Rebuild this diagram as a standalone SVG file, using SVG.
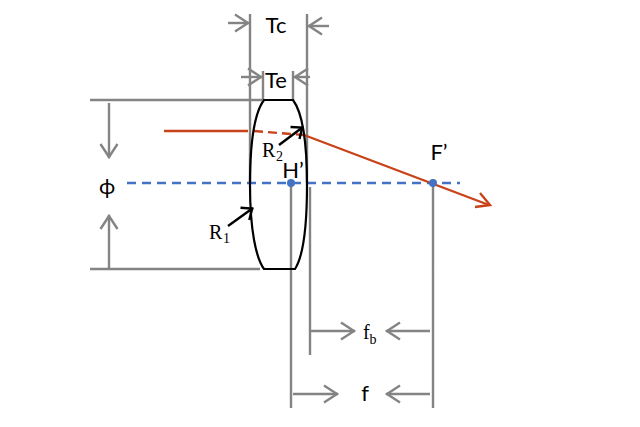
<svg xmlns="http://www.w3.org/2000/svg" width="640" height="427" viewBox="0 0 640 427">
<style>
.g{stroke:#848484;stroke-width:2.4;fill:none}
.ga{stroke:#848484;stroke-width:2.4;fill:none;marker-end:url(#ag)}
.k{stroke:#000;stroke-width:2.4;fill:none;marker-end:url(#ak)}
.t{font-family:Lato,"Liberation Sans",sans-serif;font-size:22px;fill:#000;text-anchor:middle}
.s{font-family:"Liberation Serif","Times New Roman",serif;font-size:20px;fill:#000}
.sub{font-family:"Liberation Serif","Times New Roman",serif;font-size:14px;fill:#000}
</style>
<defs>
<marker id="ag" markerUnits="userSpaceOnUse" markerWidth="24" markerHeight="26" refX="17" refY="13" orient="auto"><path d="M3 4.500L16 13L3 21.500" fill="none" stroke="#848484" stroke-width="2.400"/></marker>
<marker id="ak" markerUnits="userSpaceOnUse" markerWidth="18" markerHeight="22" refX="13" refY="11" orient="auto"><path d="M3 3.500L12 11L3 18.500" fill="none" stroke="#000" stroke-width="2.400"/></marker>
</defs>
<g id="connectors">
<path class="g" d="M250 14V183M307 14V183M263 71V100M293 71V100M90 100H262M90 269H260M291 183V408M310 187V355M433 183V408"/>
<path class="ga" d="M228 23H249"/>
<path class="ga" d="M329 26H308"/>
<path class="ga" d="M241 77H262"/>
<path class="ga" d="M310 77H294"/>
<path class="ga" d="M109 103V158"/>
<path class="ga" d="M109 268V215"/>
<path class="ga" d="M311 331H355"/>
<path class="ga" d="M430 331H386"/>
<path class="ga" d="M293 394H338"/>
<path class="ga" d="M430 394H386"/>
<path d="M127 183H460" fill="none" stroke="#4472c4" stroke-width="2.400" stroke-dasharray="9 6"/>
<path d="M164 131H248" fill="none" stroke="#c8421a" stroke-width="2.400"/>
<path d="M254 131L304 135" fill="none" stroke="#c8421a" stroke-width="2.400" stroke-dasharray="9 5"/>
<path d="M304 135L489 205" fill="none" stroke="#c8421a" stroke-width="2.400"/>
<path d="M475 207L490 205L480 193" fill="none" stroke="#c8421a" stroke-width="2.400"/>
<path class="k" d="M228 226L253 208"/>
<path class="k" d="M279 145L303 127"/>
</g>
<g id="lens"><path d="M264 100H293C302 112 307 140 307 185C307 230 302 258 295 269H264C256 258 250 230 250 185C250 140 255 112 264 100Z" fill="none" stroke="#000" stroke-width="2.200"/></g>
<g id="point-h"><circle cx="291" cy="183" r="4" fill="#4472c4"/><text class="t" x="293" y="178">H’</text></g>
<g id="point-f"><circle cx="433" cy="183" r="4" fill="#4472c4"/><text class="t" x="439" y="160">F’</text></g>
<g id="label-tc"><text class="t" x="276" y="33">Tc</text></g>
<g id="label-te"><text class="t" x="276" y="88">Te</text></g>
<g id="label-phi"><text class="t" x="107" y="194">ϕ</text></g>
<g id="label-r1"><text class="s" x="209" y="239">R</text><text class="sub" x="223" y="243">1</text></g>
<g id="label-r2"><text class="s" x="262" y="157">R</text><text class="sub" x="276" y="161">2</text></g>
<g id="label-fb"><text class="s" x="363" y="339">f</text><text class="sub" x="369.500" y="344">b</text></g>
<g id="label-f"><text class="t" x="365" y="401">f</text></g>
</svg>
